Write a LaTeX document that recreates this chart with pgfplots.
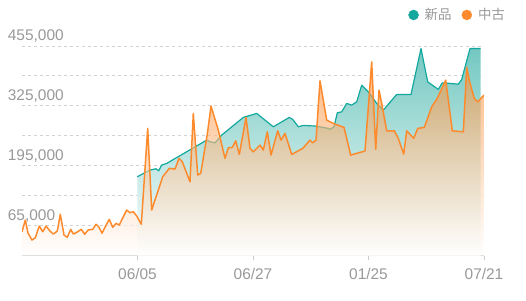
\documentclass[border=0pt]{standalone}
\usepackage{fontspec}
\setmainfont{Liberation Sans}
\newfontfamily\cjk{Noto Sans CJK JP}
\usepackage{pgfplots}
\usepackage{pgfplotstable}
\pgfplotsset{compat=1.18}
\definecolor{tealc}{HTML}{13A89E}
\definecolor{orangec}{HTML}{FD8A2D}
\definecolor{tealtop}{RGB}{115,200,193}
\definecolor{gridc}{HTML}{D2D2D2}
\definecolor{axisc}{HTML}{CCCCCC}
\definecolor{txt}{HTML}{999999}

\pgfplotstableread{
x y
0 52000
3.3 77400
6 49200
10 34000
13.3 39000
17.3 64400
20.7 52000
24 64400
28 53500
31.3 47000
35.3 53500
38.3 89800
42 44900
45.3 39900
48.7 57200
51.3 47000
55.3 51400
59.3 57200
62.7 46400
66 55700
70.7 57200
74 68100
76.7 62900
80 48600
83.3 62900
87.3 78900
90.7 61600
94 70200
97.3 66600
101.3 84600
104.7 99100
108 93200
111.3 95400
114.7 86100
119.3 68100
125.7 276200
129.7 99100
140.7 171300
147.3 189500
153 188000
157 211200
160.3 203800
168 160400
171.3 308700
175.7 175000
178.7 178600
185.3 263800
189 324600
196.3 272500
203 211200
206.3 234100
210.3 235000
213.7 249300
217.3 219800
224 300100
228 232800
231.3 225500
238 240000
241.3 229200
245.3 268800
249 218300
255.7 271000
259 250800
263 265400
269.7 219800
280.7 232800
288 250800
290.7 245000
294 250800
298 379400
304.7 294200
311.3 287000
322 278400
328.7 218300
338 224200
343 227000
349.7 420600
353.7 230700
357 359200
359.7 330400
364.7 271000
372.3 271000
376.3 254500
381.7 220500
384.7 271000
391.7 254500
395.7 276200
402.3 278400
409.7 323000
414.7 339100
423.7 380900
430.3 271000
441.3 268800
444.7 408500
448 373800
452.3 341200
455.7 333900
462 348400
}\used

\pgfplotstableread{
x y
115.3 171300
128 185800
134 188600
136.7 184300
139.7 196600
144.7 200300
184.7 250800
188 247200
193 245000
199.7 261700
221.3 300100
234.7 308700
251.3 279700
267.3 300100
270.7 295700
276.3 279700
281.3 282700
294 281200
306.3 276200
308 274000
312 279700
315.3 310000
319.7 312200
324.7 330400
329.7 326700
334.7 333900
339.7 370100
346.3 355600
354.7 330400
361.3 315900
374.7 349900
389 349900
399 449600
405.7 377200
416.3 360800
420.3 375100
428 373800
436.3 372200
439.7 382400
448 449600
458.7 449600
}\newp

\begin{document}
\begin{tikzpicture}[x=1bp,y=1bp]
\useasboundingbox (0,0) rectangle (526,300);
\begin{axis}[
  at={(22bp,44.3bp)}, anchor=south west,
  scale only axis, width=462bp, height=209.7bp,
  xmin=0, xmax=462, ymin=0, ymax=455000,
  axis x line*=bottom, axis y line*=left,
  y axis line style={draw=none},
  x axis line style={draw=axisc, line width=1bp},
  xtick={115.5,231,346.5,462},
  xticklabels={06/05,06/27,01/25,07/21},
  xtick style={draw=axisc, line width=1bp},
  tick align=outside, major tick length=4bp,
  ytick={65000,195000,325000,455000},
  yticklabels={{65,000},{195,000},{325,000},{455,000}},
  minor ytick={130000,260000,390000},
  ytick style={draw=none},
  ymajorgrids, yminorgrids,
  major grid style={draw=gridc, dash pattern=on 3bp off 3bp, line width=1bp},
  minor grid style={draw=gridc, dash pattern=on 3bp off 3bp, line width=1bp},
  ticklabel style={font=\fontsize{15.5}{16}\selectfont, text=txt},
  yticklabel style={anchor=base west, inner sep=0pt, xshift=-10.3bp, yshift=5.3bp},
  xticklabel style={anchor=base, inner sep=0pt, yshift=-19.3bp},
  scaled y ticks=false,
  legend style={at={(1.05,1.148)}, anchor=east, draw=none, fill=none, inner sep=0pt,
    font=\cjk\fontsize{13.5}{14}\selectfont, text=txt,
    /tikz/every odd column/.append style={column sep=4bp},
    /tikz/every even column/.append style={column sep=8bp}},
  legend columns=2,
]
\addplot[forget plot, draw=none, top color=tealtop, bottom color=white] table {\newp} \closedcycle;
\addplot[forget plot, tealc, line width=1.2bp, line join=round] table {\newp};
\addplot[forget plot, draw=none, top color=orangec, bottom color=white, fill opacity=0.6] table {\used} \closedcycle;
\addplot[forget plot, orangec, line width=1.5bp, line join=round] table {\used};
\addlegendimage{legend image code/.code={\fill[tealc] (0bp,0bp) circle (5bp);}}
\addlegendentry{新品}
\addlegendimage{legend image code/.code={\fill[orangec] (0bp,0bp) circle (5bp);}}
\addlegendentry{中古}
\end{axis}
\end{tikzpicture}
\end{document}
